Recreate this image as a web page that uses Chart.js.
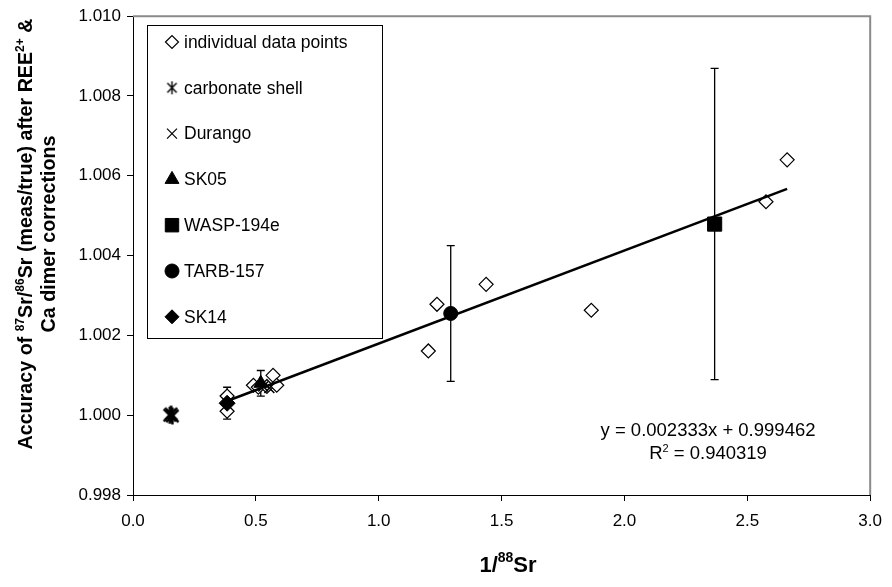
<!DOCTYPE html>
<html>
<head>
<meta charset="utf-8">
<script src="https://cdn.jsdelivr.net/npm/chart.js@4.4.0/dist/chart.umd.min.js"></script>
<style>
  html, body { margin: 0; padding: 0; background: #fff; }
</style>
</head>
<body>
<canvas id="chart" width="892" height="587"></canvas>
<script>
// individual measurements (open diamonds)
const indivX = [0.383, 0.383, 0.49, 0.51, 0.545, 0.57, 0.585, 1.202, 1.237, 1.437, 1.865, 2.576, 2.662];
const indivY = [1.00048, 1.00010, 1.00075, 1.00070, 1.00072, 1.00100, 1.00075, 1.00161, 1.00278, 1.00328, 1.00263, 1.00535, 1.00640];

// reference materials
const carbX = [0.150, 0.155, 0.160];
const carbY = [1.00000, 1.00003, 0.99998];
const durangoX = [0.530, 0.555];
const durangoY = [1.00072, 1.00068];
const sk05X = [0.520];
const sk05Y = [1.00080];
const sk05Err = [0.00032];
const waspX = [2.367];
const waspY = [1.00479];
const waspErr = [0.0039];
const tarbX = [1.293];
const tarbY = [1.00255];
const tarbErr = [0.0017];
const sk14X = [0.383];
const sk14Y = [1.00030];
const sk14Err = [0.0004];

// linear fit endpoints
const trendX = [0.383, 2.662];
const trendY = [1.000356, 1.005673];
const equationText = 'y = 0.002333x + 0.999462';
const r2Text = ' = 0.940319';

const legendLabels = ['individual data points', 'carbonate shell', 'Durango', 'SK05', 'WASP-194e', 'TARB-157', 'SK14'];

const FONT = "'Liberation Sans', Arial, sans-serif";

const pts = (xs, ys) => xs.map((x, i) => ({ x: x, y: ys[i] }));

// excel style star marker: X with a vertical bar
function makeStar(size, lw) {
  const c = document.createElement('canvas');
  c.width = size; c.height = size;
  const g = c.getContext('2d');
  const m = size / 2, r = size / 2 - 1;
  g.strokeStyle = '#000';
  g.lineWidth = lw;
  g.beginPath();
  g.moveTo(m - r * 0.72, m - r * 0.72); g.lineTo(m + r * 0.72, m + r * 0.72);
  g.moveTo(m + r * 0.72, m - r * 0.72); g.lineTo(m - r * 0.72, m + r * 0.72);
  g.moveTo(m, m - r); g.lineTo(m, m + r);
  g.stroke();
  return c;
}
const starBig = makeStar(19, 2.5);
const starSmall = makeStar(15, 1.4);

// draws text with superscript parts, centred on (cx, cy)
function drawRich(ctx, parts, cx, cy, size, bold) {
  const w = bold ? 'bold ' : '';
  let total = 0;
  parts.forEach(p => {
    ctx.font = w + (p.sup ? Math.round(size * 0.62) : size) + 'px ' + FONT;
    p.w = ctx.measureText(p.t).width;
    total += p.w;
  });
  let x = cx - total / 2;
  ctx.textAlign = 'left';
  ctx.textBaseline = 'alphabetic';
  parts.forEach(p => {
    ctx.font = w + (p.sup ? Math.round(size * 0.62) : size) + 'px ' + FONT;
    ctx.fillText(p.t, x, p.sup ? cy + size * 0.35 - size * 0.42 : cy + size * 0.35);
    x += p.w;
  });
}

const errorBars = {
  id: 'errorBars',
  beforeDatasetsDraw(chart) {
    const ctx = chart.ctx, xs = chart.scales.x, ys = chart.scales.y;
    ctx.save();
    ctx.strokeStyle = '#000';
    ctx.lineWidth = 1.3;
    chart.data.datasets.forEach(ds => {
      if (!ds.errors) return;
      ds.data.forEach((p, i) => {
        const px = xs.getPixelForValue(p.x);
        const top = ys.getPixelForValue(p.y + ds.errors[i]);
        const bot = ys.getPixelForValue(p.y - ds.errors[i]);
        ctx.beginPath();
        ctx.moveTo(px, top); ctx.lineTo(px, bot);
        ctx.moveTo(px - 4, top); ctx.lineTo(px + 4, top);
        ctx.moveTo(px - 4, bot); ctx.lineTo(px + 4, bot);
        ctx.stroke();
      });
    });
    ctx.restore();
  }
};

const decorations = {
  id: 'decorations',
  afterDraw(chart) {
    const ctx = chart.ctx, a = chart.chartArea;
    ctx.save();
    // grey frame top/right
    ctx.strokeStyle = '#8a8a8a';
    ctx.lineWidth = 2;
    ctx.beginPath();
    ctx.moveTo(a.left, a.top); ctx.lineTo(a.right, a.top); ctx.lineTo(a.right, a.bottom);
    ctx.stroke();

    // legend box
    const lx = 147, ly = 25, lw = 235, lh = 313;
    ctx.fillStyle = '#fff';
    ctx.fillRect(lx, ly, lw, lh);
    ctx.strokeStyle = '#000';
    ctx.lineWidth = 1;
    ctx.strokeRect(lx + 0.5, ly + 0.5, lw, lh);
    const styles = [
      { pointStyle: 'rectRot', radius: 6.5, fill: '#fff', bw: 1.2 },
      { pointStyle: starSmall, radius: 7, fill: '#000', bw: 1 },
      { pointStyle: 'crossRot', radius: 7, fill: '#000', bw: 1.2 },
      { pointStyle: 'triangle', radius: 8, fill: '#000', bw: 1 },
      { pointStyle: 'rect', radius: 9.5, fill: '#000', bw: 1 },
      { pointStyle: 'circle', radius: 7, fill: '#000', bw: 1 },
      { pointStyle: 'rectRot', radius: 7, fill: '#000', bw: 1 }
    ];
    legendLabels.forEach((label, i) => {
      const y = 42 + i * 45.8;
      const s = styles[i];
      ctx.fillStyle = s.fill;
      ctx.strokeStyle = '#000';
      ctx.lineWidth = s.bw;
      Chart.helpers.drawPoint(ctx, { pointStyle: s.pointStyle, radius: s.radius, rotation: 0, borderWidth: s.bw }, 172, y);
      ctx.fillStyle = '#000';
      ctx.font = '17.5px ' + FONT;
      ctx.textAlign = 'left';
      ctx.textBaseline = 'middle';
      ctx.fillText(label, 184, y + 1);
    });

    // regression text
    ctx.fillStyle = '#000';
    drawRich(ctx, [{ t: equationText }], 708, 430, 18.5, false);
    drawRich(ctx, [{ t: 'R' }, { t: '2', sup: true }, { t: r2Text }], 708, 453, 18.5, false);

    // axis titles
    drawRich(ctx, [{ t: '1/' }, { t: '88', sup: true }, { t: 'Sr' }], 508, 564, 22, true);
    ctx.translate(0, 234);
    ctx.rotate(-Math.PI / 2);
    drawRich(ctx, [
      { t: 'Accuracy of ' }, { t: '87', sup: true }, { t: 'Sr/' }, { t: '86', sup: true },
      { t: 'Sr (meas/true) after REE' }, { t: '2+', sup: true }, { t: ' &' }
    ], 0, 25, 19.7, true);
    drawRich(ctx, [{ t: 'Ca dimer corrections' }], 0, 48, 19.7, true);
    ctx.restore();
  }
};

new Chart(document.getElementById('chart'), {
  type: 'scatter',
  data: {
    datasets: [
      { data: pts(tarbX, tarbY), errors: tarbErr, pointStyle: 'circle', pointRadius: 7,
        backgroundColor: '#000', borderColor: '#000' },
      { data: pts(waspX, waspY), errors: waspErr, pointStyle: 'rect', pointRadius: 10,
        backgroundColor: '#000', borderColor: '#000' },
      { data: pts(sk14X, sk14Y), errors: sk14Err, pointStyle: 'rectRot', pointRadius: 8,
        backgroundColor: '#000', borderColor: '#000' },
      { data: pts(sk05X, sk05Y), errors: sk05Err, pointStyle: 'triangle', pointRadius: 8,
        backgroundColor: '#000', borderColor: '#000' },
      { data: pts(durangoX, durangoY), pointStyle: 'crossRot', pointRadius: 7,
        borderColor: '#000', borderWidth: 1.5 },
      { data: pts(carbX, carbY), pointStyle: starBig, pointRadius: 8 },
      { data: pts(trendX, trendY), showLine: true, pointRadius: 0, borderColor: '#000', borderWidth: 2.5 },
      { data: pts(indivX, indivY), pointStyle: 'rectRot', pointRadius: 7,
        backgroundColor: '#fff', borderColor: '#000', borderWidth: 1.2 }
    ]
  },
  options: {
    responsive: false,
    animation: false,
    events: [],
    layout: { padding: { top: 15, right: 16, left: 0, bottom: 0 } },
    plugins: { legend: { display: false }, tooltip: { enabled: false } },
    scales: {
      x: {
        type: 'linear', min: 0, max: 3,
        afterFit(scale) { scale.height = 92; },
        border: { display: true, color: '#000', width: 1 },
        grid: { drawOnChartArea: false, drawTicks: true, tickLength: 6, color: '#000' },
        ticks: { stepSize: 0.5, padding: 10, color: '#000', font: { family: FONT, size: 17 },
          callback: v => v.toFixed(1) }
      },
      y: {
        type: 'linear', min: 0.998, max: 1.010,
        afterFit(scale) { scale.width = 133; },
        border: { display: true, color: '#000', width: 1 },
        grid: { drawOnChartArea: false, drawTicks: true, tickLength: 6, color: '#000' },
        ticks: { stepSize: 0.002, padding: 6, color: '#000', font: { family: FONT, size: 17 },
          callback: v => v.toFixed(3) }
      }
    }
  },
  plugins: [errorBars, decorations]
});
</script>
</body>
</html>
